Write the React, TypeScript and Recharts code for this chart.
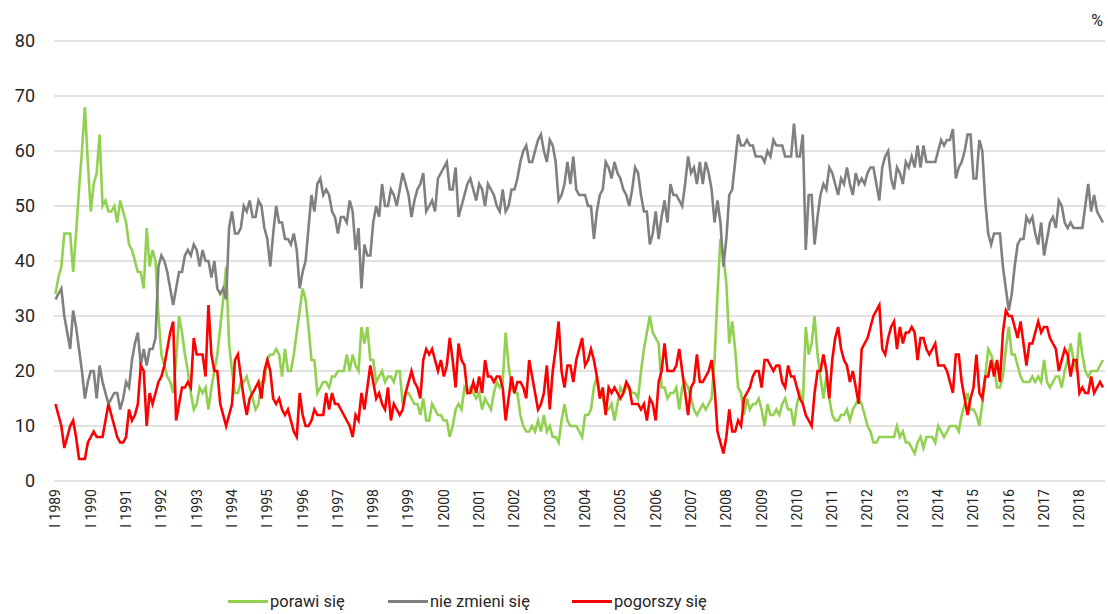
import React from "react";
import { CartesianGrid, Line, LineChart, XAxis, YAxis } from "recharts";

// monthly survey readings, one row per year starting January 1989 (last row ends September 2018)
const firstYear = 1989;

const porawiSie = [
  34, 37, 39, 45, 45, 45, 38, 45, 53, 60, 68, 58,
  49, 54, 56, 63, 50, 51, 49, 49, 50, 47, 51, 49,
  47, 43, 42, 40, 38, 38, 35, 46, 39, 42, 40, 30,
  23, 21, 19, 18, 16, 22, 30, 27, 23, 20, 16, 13,
  14, 17, 16, 17, 13, 17, 20, 23, 28, 33, 39, 25,
  20, 16, 16, 18, 18, 19, 17, 15, 13, 14, 18, 18,
  22, 23, 23, 24, 23, 19, 24, 20, 20, 23, 27, 31,
  35, 33, 28, 22, 22, 16, 17, 18, 18, 17, 19, 19,
  20, 20, 20, 23, 20, 23, 21, 20, 28, 25, 28, 22,
  22, 18, 19, 20, 18, 19, 19, 18, 20, 20, 14, 16,
  16, 15, 14, 14, 12, 15, 11, 11, 14, 13, 12, 12,
  11, 11, 8, 10, 13, 14, 13, 17, 16, 17, 16, 15,
  16, 13, 15, 14, 13, 16, 18, 17, 18, 27, 21, 17,
  16, 16, 12, 10, 9, 9, 10, 9, 11, 9, 12, 9,
  10, 8, 8, 7, 11, 14, 11, 10, 10, 10, 9, 8,
  12, 12, 13, 17, 19, 16, 15, 13, 13, 14, 11, 14,
  17, 16, 17, 17, 16, 16, 15, 20, 24, 27, 30, 27,
  26, 25, 17, 17, 15, 16, 16, 17, 13, 17, 18, 17,
  15, 13, 12, 13, 14, 13, 14, 15, 22, 34, 44, 41,
  36, 25, 29, 24, 17, 16, 12, 15, 13, 14, 14, 15,
  13, 10, 14, 12, 12, 13, 12, 14, 15, 13, 13, 10,
  14, 16, 14, 28, 23, 25, 30, 23, 19, 15, 19, 15,
  12, 11, 11, 12, 12, 13, 11, 13, 14, 15, 14, 12,
  10, 9, 7, 7, 8, 8, 8, 8, 8, 8, 10, 8,
  9, 7, 7, 6, 5, 7, 8, 6, 8, 8, 8, 7,
  10, 9, 8, 9, 10, 10, 10, 9, 12, 14, 16, 13,
  13, 12, 10, 14, 19, 24, 23, 21, 17, 17, 19, 24,
  28, 23, 23, 21, 19, 18, 18, 18, 19, 18, 19, 18,
  22, 18, 17, 18, 19, 19, 17, 20, 22, 25, 22, 20,
  27, 23, 20, 19, 20, 20, 20, 21, 22,
];

const nieZmieniSie = [
  33, 34, 35, 30, 27, 24, 31, 28, 24, 20, 15, 18,
  20, 20, 15, 21, 18, 16, 14, 15, 16, 16, 13, 15,
  18, 17, 22, 25, 27, 21, 24, 21, 24, 24, 26, 39,
  41, 40, 38, 35, 32, 35, 38, 38, 41, 42, 41, 43,
  42, 39, 42, 40, 40, 37, 40, 35, 34, 35, 33, 46,
  49, 45, 45, 46, 50, 49, 51, 48, 48, 51, 50, 46,
  44, 39, 45, 50, 47, 47, 44, 44, 43, 45, 42, 35,
  38, 40, 46, 52, 49, 54, 55, 52, 53, 52, 49, 48,
  45, 48, 48, 47, 51, 49, 42, 46, 35, 43, 41, 41,
  47, 50, 48, 54, 50, 50, 53, 52, 50, 53, 56, 54,
  52, 48, 51, 53, 54, 56, 49, 50, 51, 49, 55, 56,
  57, 58, 53, 53, 57, 48, 50, 52, 54, 55, 53, 51,
  54, 53, 50, 54, 53, 52, 50, 49, 53, 49, 50, 53,
  53, 55, 58, 60, 61, 58, 58, 60, 62, 63, 60, 58,
  62, 61, 58, 51, 52, 54, 58, 54, 59, 53, 52, 52,
  52, 50, 50, 44, 49, 52, 53, 58, 57, 55, 58, 56,
  55, 53, 52, 50, 53, 57, 56, 52, 49, 49, 43, 45,
  49, 44, 48, 51, 47, 54, 52, 52, 51, 50, 54, 59,
  56, 57, 54, 58, 54, 58, 56, 53, 47, 51, 47, 39,
  44, 52, 53, 58, 63, 61, 61, 62, 61, 61, 59, 59,
  59, 58, 60, 59, 62, 61, 61, 61, 59, 59, 59, 65,
  59, 59, 63, 42, 52, 52, 43, 48, 52, 54, 53, 57,
  56, 54, 52, 55, 54, 57, 54, 52, 56, 54, 55, 54,
  56, 57, 57, 54, 51, 57, 59, 60, 55, 53, 57, 56,
  54, 58, 57, 59, 57, 61, 57, 61, 58, 58, 58, 58,
  60, 62, 61, 62, 62, 64, 55, 57, 58, 60, 63, 63,
  55, 55, 62, 60, 51, 45, 43, 45, 45, 45, 39, 35,
  31, 34, 39, 43, 44, 44, 48, 47, 48, 45, 43, 47,
  41, 44, 47, 48, 46, 51, 50, 47, 46, 47, 46, 46,
  46, 46, 50, 54, 49, 52, 49, 48, 47,
];

const pogorszySie = [
  14, 12, 10, 6, 8, 10, 11, 8, 4, 4, 4, 7,
  8, 9, 8, 8, 8, 11, 14, 12, 10, 8, 7, 7,
  8, 13, 11, 12, 14, 21, 20, 10, 16, 14, 16, 18,
  19, 21, 24, 27, 29, 11, 14, 17, 17, 18, 17, 26,
  23, 23, 23, 19, 32, 23, 20, 20, 14, 12, 10, 12,
  14, 22, 23, 19, 15, 12, 15, 16, 17, 18, 15, 20,
  22, 20, 15, 14, 15, 13, 12, 13, 11, 9, 8, 16,
  12, 10, 10, 11, 13, 12, 12, 12, 16, 13, 16, 14,
  14, 13, 12, 11, 10, 8, 12, 11, 16, 13, 17, 21,
  18, 15, 16, 14, 13, 17, 11, 14, 13, 12, 13, 16,
  18, 20, 18, 17, 15, 22, 24, 23, 24, 22, 20, 22,
  19, 21, 26, 22, 17, 25, 22, 21, 16, 16, 18, 16,
  19, 16, 22, 19, 19, 18, 19, 19, 17, 11, 15, 19,
  16, 18, 18, 17, 15, 22, 19, 16, 13, 14, 16, 21,
  13, 20, 24, 29, 20, 17, 21, 21, 18, 22, 24, 26,
  21, 22, 24, 22, 19, 15, 17, 12, 17, 16, 17, 16,
  15, 16, 18, 17, 14, 14, 14, 13, 14, 11, 15, 14,
  11, 18, 20, 25, 20, 20, 20, 21, 24, 20, 16, 12,
  17, 18, 23, 18, 18, 19, 20, 22, 17, 9, 7, 5,
  8, 13, 9, 9, 11, 10, 15, 16, 17, 19, 20, 20,
  17, 22, 22, 21, 20, 21, 21, 18, 17, 21, 19, 19,
  17, 15, 14, 12, 11, 10, 16, 20, 20, 23, 20, 15,
  22, 26, 28, 24, 22, 21, 18, 20, 17, 14, 24, 25,
  26, 28, 30, 31, 32, 24, 23, 26, 28, 29, 24, 28,
  25, 27, 27, 28, 27, 22, 26, 26, 24, 23, 24, 25,
  21, 21, 21, 20, 18, 16, 23, 23, 18, 15, 12, 15,
  17, 23, 16, 15, 19, 19, 22, 19, 22, 18, 27, 31,
  30, 30, 28, 26, 29, 25, 21, 25, 25, 27, 29, 27,
  28, 28, 26, 25, 24, 20, 22, 24, 23, 19, 22, 22,
  16, 17, 16, 16, 19, 16, 17, 18, 17,
];

const yTicks = [0, 10, 20, 30, 40, 50, 60, 70, 80];
const yearTicks = Array.from({ length: 30 }, (_, k) => k * 12);

const series = [
  { key: "porawi", name: "porawi się", color: "#92d050", values: porawiSie },
  { key: "nie", name: "nie zmieni się", color: "#808080", values: nieZmieniSie },
  { key: "pogorszy", name: "pogorszy się", color: "#ff0000", values: pogorszySie },
];

const rows = porawiSie.map((_, i) => ({
  i,
  porawi: porawiSie[i],
  nie: nieZmieniSie[i],
  pogorszy: pogorszySie[i],
}));

const FONT = "Roboto, Arial, sans-serif";
const TEXT = "#262626";

function YearTick(props: any) {
  const { x, y, payload } = props;
  const year = firstYear + Math.round(payload.value / 12);
  return (
    <text
      x={x}
      y={y}
      transform={`rotate(-90 ${x} ${y})`}
      textAnchor="end"
      dy="0.35em"
      fontSize={14}
      fontFamily={FONT}
      fill={TEXT}
    >
      {`I ${year}`}
    </text>
  );
}

const legendLeft = [228, 388, 572];

export default function App() {
  return (
    <div style={{ position: "relative", width: 1108, height: 614, fontFamily: FONT, background: "#fff" }}>
      <style>{"body{margin:0}"}</style>
      <LineChart width={1108} height={614} data={rows} margin={{ top: 41, right: 3, bottom: 73, left: 0 }}>
        <CartesianGrid vertical={false} stroke="#d9d9d9" strokeWidth={1.3} />
        <XAxis
          dataKey="i"
          type="number"
          domain={[-0.5, 356.7]}
          ticks={yearTicks}
          interval={0}
          tick={<YearTick />}
          axisLine={false}
          tickLine={false}
          height={60}
        />
        <YAxis
          domain={[0, 80]}
          ticks={yTicks}
          interval={0}
          axisLine={false}
          tickLine={false}
          width={54}
          tickMargin={13}
          tick={{ fontSize: 18, fill: TEXT, fontFamily: FONT }}
        />
        {series.map((s) => (
          <Line
            key={s.key}
            dataKey={s.key}
            name={s.name}
            stroke={s.color}
            strokeWidth={2.6}
            dot={false}
            type="linear"
            isAnimationActive={false}
          />
        ))}
      </LineChart>
      <div style={{ position: "absolute", right: 5, top: 11, fontSize: 16, color: TEXT }}>%</div>
      {series.map((s, k) => (
        <div
          key={s.key}
          style={{
            position: "absolute",
            left: legendLeft[k],
            top: 592,
            display: "flex",
            alignItems: "center",
            fontSize: 16.5,
            color: TEXT,
            whiteSpace: "nowrap",
          }}
        >
          <span style={{ display: "inline-block", width: 40, height: 3, background: s.color, marginRight: 2 }} />
          <span>{s.name}</span>
        </div>
      ))}
    </div>
  );
}
